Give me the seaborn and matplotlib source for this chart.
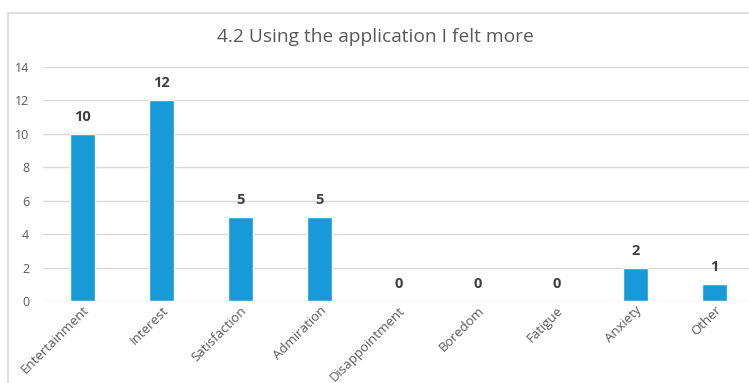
import matplotlib
matplotlib.use("Agg")
import matplotlib.pyplot as plt
import seaborn as sns
import pandas as pd
from matplotlib.patches import Rectangle

# Données
categories = ["Entertainment", "Interest", "Satisfaction", "Admiration",
              "Disappointment", "Boredom", "Fatigue", "Anxiety", "Other"]
counts = [10, 12, 5, 5, 0, 0, 0, 2, 1]
y_ticks = [0, 2, 4, 6, 8, 10, 12, 14]
title = "4.2 Using the application I felt more"

df = pd.DataFrame({"category": categories, "count": counts})

sns.set_theme(style="white")
plt.rcParams['font.family'] = ['Open Sans', 'DejaVu Sans']

fig = plt.figure(figsize=(7.49, 3.83), dpi=100)
ax = fig.add_axes([43 / 749, 1 - 301 / 383, 711 / 749, (301 - 67) / 383])

sns.barplot(data=df, x="category", y="count", color="#189ad8",
            width=0.32, saturation=1, ax=ax)

ax.set_ylim(0, 14)
ax.set_yticks(y_ticks)
ax.set_xlim(-0.5, len(categories) - 0.5)
ax.grid(axis="y", color="#d9d9d9", linewidth=1)
ax.set_axisbelow(True)
for s in ax.spines.values():
    s.set_visible(False)
ax.set_xlabel("")
ax.set_ylabel("")
ax.tick_params(axis="y", length=0, pad=10, labelsize=9, labelcolor="#595959")
ax.tick_params(axis="x", length=0, pad=2, labelsize=9.5, labelcolor="#595959")
plt.setp(ax.get_xticklabels(), rotation=45, ha="right", rotation_mode="anchor")

for i, v in enumerate(counts):
    ax.text(i, v + 0.6, str(v), ha="center", va="bottom",
            fontsize=10.5, fontweight="bold", color="#404040")

fig.text(375 / 749, 1 - 37 / 383, title, ha="center", va="center",
         fontsize=13.8, color="#595959")

# cadre du graphique
fig.patches.append(Rectangle((8 / 749, -0.1), 2, 1 - 13 / 383 + 0.1,
                             transform=fig.transFigure, fill=False,
                             edgecolor="#d9d9d9", linewidth=1.2))

fig.savefig("out.png", dpi=100)
